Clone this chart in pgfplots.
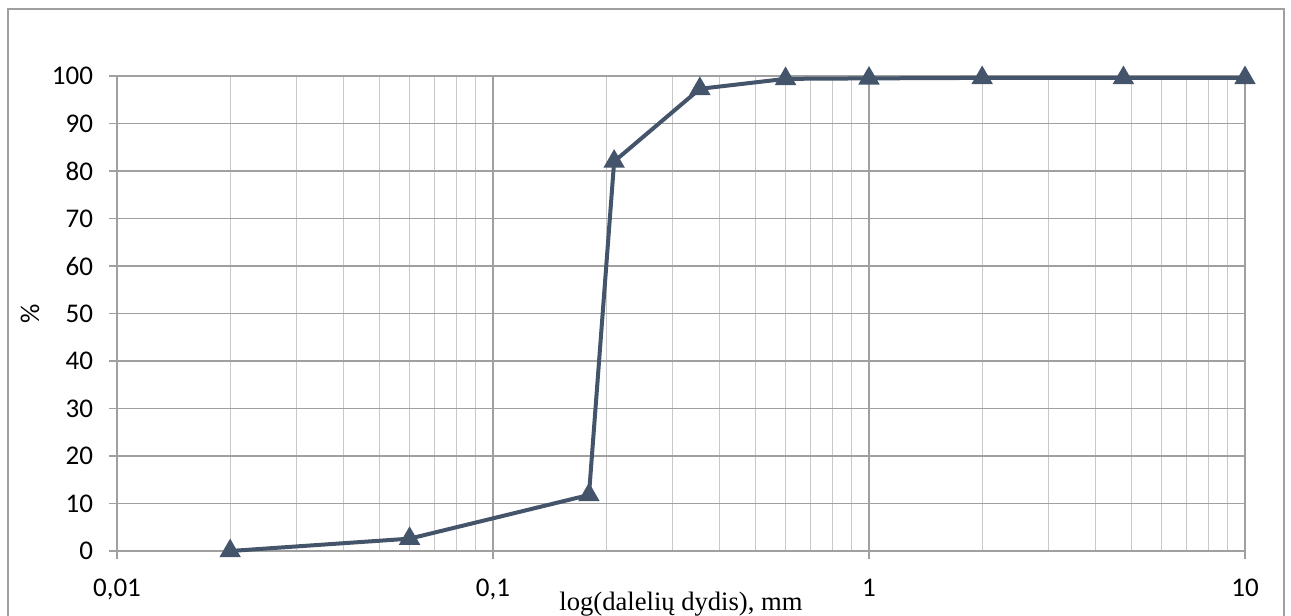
\documentclass[border=0pt]{standalone}
\usepackage{pgfplots}
\pgfplotsset{compat=1.18}
\usepackage{fontspec}
\setmainfont{Carlito}
\newfontfamily\seriffont{Liberation Serif}
\definecolor{linec}{HTML}{44546A}
\definecolor{majg}{HTML}{A0A0A0}
\definecolor{ming}{HTML}{C8C8C8}
\begin{document}
\begin{tikzpicture}[x=1pt,y=1pt]
\useasboundingbox (0,0) rectangle (645.5,-308);
\draw[color=majg, line width=0.6pt] (4,-4.5) rectangle (642,-330);
\begin{axis}[
  at={(58.5pt,-275.5pt)}, anchor=south west,
  scale only axis, width=564pt, height=237.5pt,
  xmode=log, xmin=0.01, xmax=10, ymin=0, ymax=100,
  xtick={0.01,0.1,1,10}, xticklabels={{0,01},{0,1},{1},{10}},
  minor xtick={0.02,0.03,0.04,0.05,0.06,0.07,0.08,0.09,0.2,0.3,0.4,0.5,0.6,0.7,0.8,0.9,2,3,4,5,6,7,8,9},
  ytick={0,10,...,100},
  axis x line*=bottom, axis y line*=left,
  axis line style={majg, line width=0.6pt, -},
  tick align=outside, major tick length=4pt, minor tick length=0pt,
  tick style={majg, line width=0.6pt},
  xmajorgrids, xminorgrids, ymajorgrids,
  major grid style={majg, line width=0.6pt},
  minor grid style={ming, line width=0.6pt},
  /pgf/number format/assume math mode=true,
  tick label style={font=\fontsize{13.5}{16}\selectfont, black},
  xticklabel style={yshift=-6.5pt},
  yticklabel style={xshift=-4.5pt},
  xlabel={\seriffont log(dalelių dydis), mm},
  xlabel style={at={(axis description cs:0.5,0)}, anchor=base, yshift=-29.5pt, font=\fontsize{13.3}{16}\selectfont},
  ylabel={\%},
  ylabel style={at={(axis description cs:-0.077,0.5)}, anchor=center, font=\fontsize{13.5}{16}\selectfont},
  clip=false,
]
\addplot[linec, line width=2pt, mark=triangle*, mark size=4.2pt, mark options={solid, fill=linec}]
coordinates {
(0.02,0) (0.06,2.6) (0.18,11.8) (0.21,82) (0.355,97.3) (0.6,99.4) (1,99.5) (2,99.6) (4.75,99.6) (10,99.6)
};
\end{axis}
\end{tikzpicture}
\end{document}
